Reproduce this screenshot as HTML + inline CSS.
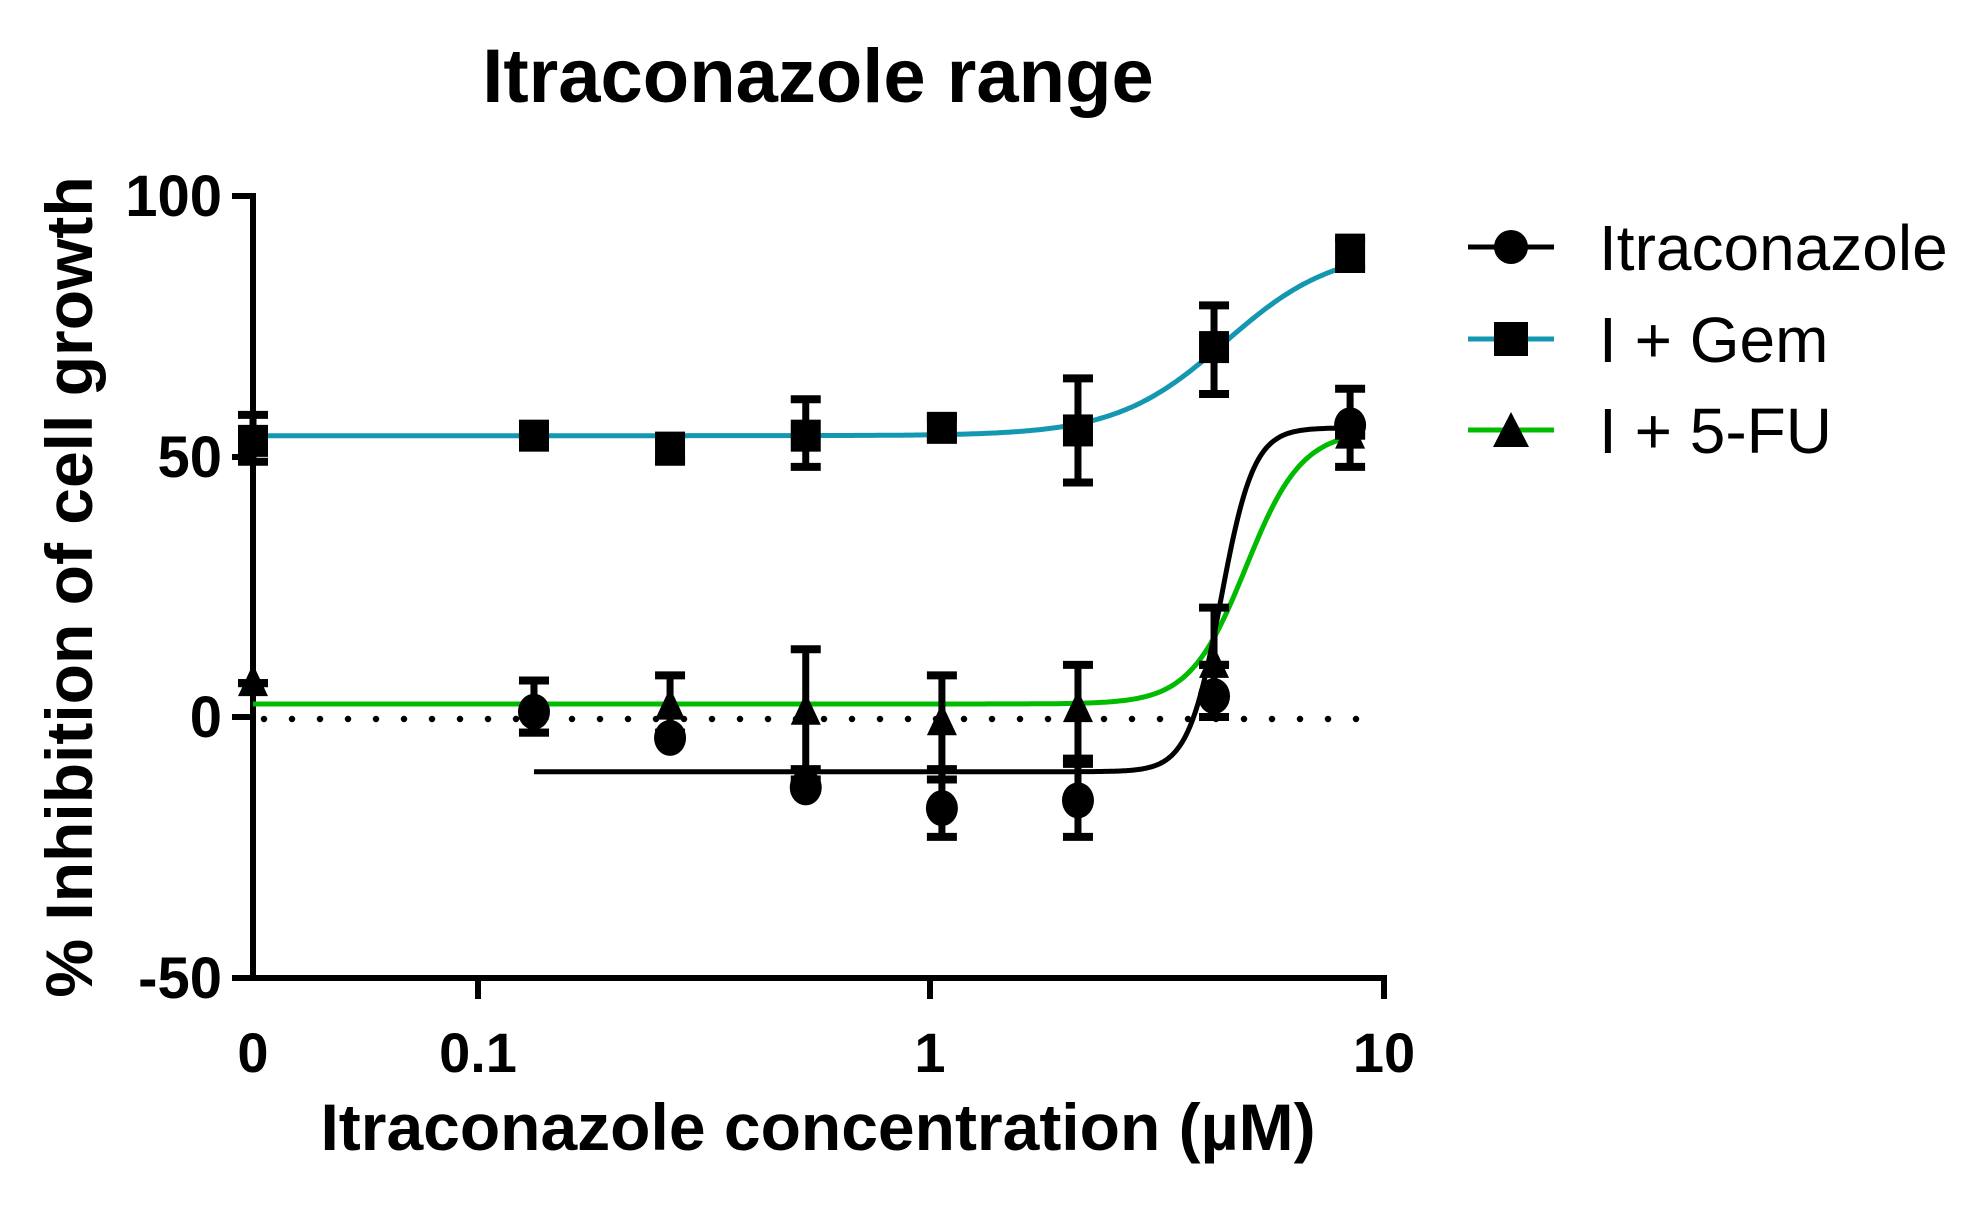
<!DOCTYPE html>
<html><head><meta charset="utf-8"><style>
body{margin:0;background:#fff;}
svg{display:block;font-family:"Liberation Sans",Arial,sans-serif;}
</style></head><body>
<svg id="s" width="1984" height="1232" viewBox="0 0 1984 1232" xmlns="http://www.w3.org/2000/svg">
<rect width="1984" height="1232" fill="#fff"/>
<text x="818" y="102" font-size="76" font-weight="bold" text-anchor="middle">Itraconazole range</text>
<g id="ax" stroke="#000" stroke-width="6" fill="none">
<line x1="253" y1="193" x2="253" y2="981"/>
<line x1="250" y1="978" x2="1387" y2="978"/>
<line x1="232" y1="196" x2="253" y2="196"/>
<line x1="232" y1="457" x2="253" y2="457"/>
<line x1="232" y1="717" x2="253" y2="717"/>
<line x1="232" y1="978" x2="253" y2="978"/>
<line x1="478" y1="978" x2="478" y2="999"/>
<line x1="930" y1="978" x2="930" y2="999"/>
<line x1="1384" y1="978" x2="1384" y2="999"/>
<line x1="264" y1="719" x2="1384" y2="719" stroke-width="6.5" stroke-dasharray="0 28" stroke-linecap="round"/>
</g>
<g font-size="58" font-weight="bold" text-anchor="end">
<text x="222" y="216">100</text>
<text x="222" y="477">50</text>
<text x="222" y="737">0</text>
<text x="222" y="998">-50</text>
</g>
<g font-size="56" font-weight="bold" text-anchor="middle">
<text x="253" y="1072">0</text>
<text x="478" y="1072">0.1</text>
<text x="930" y="1072">1</text>
<text x="1384" y="1072">10</text>
</g>
<text x="818" y="1150" font-size="66" font-weight="bold" text-anchor="middle">Itraconazole concentration (µM)</text>
<text transform="translate(92,587) rotate(-90)" font-size="66" font-weight="bold" text-anchor="middle">% Inhibition of cell growth</text>
<g id="curves" fill="none" stroke-width="5"></g>
<g id="pts"></g>
<g font-size="64">
<line x1="1468" y1="247" x2="1554" y2="247" stroke="#000" stroke-width="5"/>
<circle cx="1511" cy="247" r="17"/>
<text x="1599" y="270">Itraconazole</text>
<line x1="1468" y1="339" x2="1554" y2="339" stroke="#1497b0" stroke-width="5"/>
<rect x="1494" y="322" width="34" height="34"/>
<text x="1599" y="362">I + Gem</text>
<line x1="1468" y1="430" x2="1554" y2="430" stroke="#00bb00" stroke-width="5"/>
<polygon points="1511,412 1493,447 1529,447"/>
<text x="1599" y="453">I + 5-FU</text>
</g>
</svg>
<script>
var NS="http://www.w3.org/2000/svg";
function X(c){return c===0?253:478+452*Math.log10(c/0.1);}
function Y(v){return 717-v*5.21;}
function el(t,a,p){var e=document.createElementNS(NS,t);for(var k in a)e.setAttribute(k,a[k]);document.getElementById(p).appendChild(e);return e;}
function curve(b,t,ec,h,x0,col){var d="";for(var px=x0;px<=1350;px+=2){var c=0.1*Math.pow(10,(px-478)/452);var v=b+(t-b)/(1+Math.pow(ec/c,h));d+=(d?"L":"M")+px+","+Y(v).toFixed(1);}el("path",{d:d,stroke:col},"curves");}
curve(54,90,4.5,3.6,253,"#1497b0");
curve(2.5,55,5.0,7,253,"#00bb00");
curve(-10.5,55.5,4.4,12,534,"#000");
var cs=[0,0.133,0.266,0.531,1.0625,2.125,4.25,8.5];
function eb(c,lo,hi){var x=X(c);el("line",{x1:x,x2:x,y1:Y(lo),y2:Y(hi),stroke:"#000","stroke-width":7},"pts");[lo,hi].forEach(function(v){el("line",{x1:x-15,x2:x+15,y1:Y(v),y2:Y(v),stroke:"#000","stroke-width":8},"pts");});}
var gem=[[53,49,58],[54,54,54],[51.5,49,54],[54,48,61],[55.5,53.5,57.5],[55,45,65],[71,62,79],[89,86,92]];
var itr=[null,[1,-3,7],[-4,-4,-4],[-13.5,-14,-10],[-17.5,-23,-10],[-16,-23,-8],[4,0,21],[56,48,63]];
var fu=[[6.5,6.5,6.5],[2,-3,7],[2,-3,8],[1,-12,13],[-1,-12,8],[1.5,-9,10],[10,10,10],[54,54,54]];
for(var i=0;i<8;i++){var g=gem[i];eb(cs[i],g[1],g[2]);if(itr[i])eb(cs[i],itr[i][1],itr[i][2]);eb(cs[i],fu[i][1],fu[i][2]);}
for(var i=0;i<8;i++){var x=X(cs[i]);
var g=gem[i];el("rect",{x:x-15,y:Y(g[0])-16,width:30,height:32},"pts");
if(itr[i])el("ellipse",{cx:x,cy:Y(itr[i][0]),rx:16,ry:18},"pts");
var y=Y(fu[i][0]);el("polygon",{points:(x)+","+(y-19)+" "+(x-15)+","+(y+13)+" "+(x+15)+","+(y+13)},"pts");}
</script>
</body></html>
